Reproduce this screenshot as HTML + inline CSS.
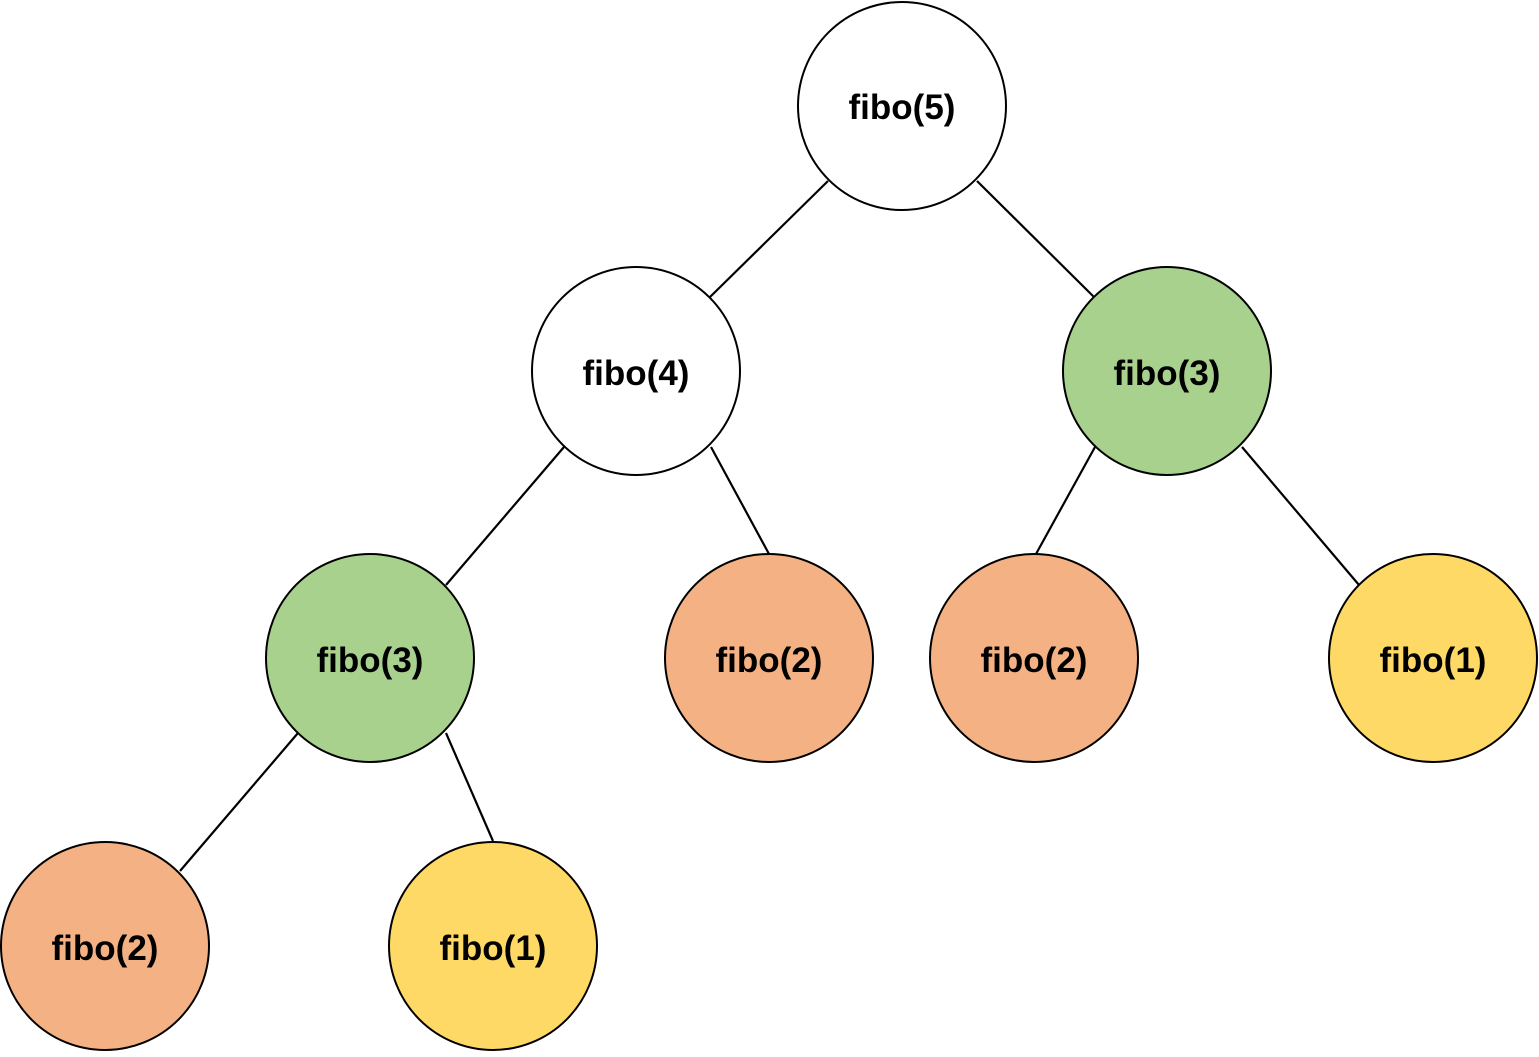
<!DOCTYPE html>
<html><head><style>html,body{margin:0;padding:0;background:#fff}</style></head><body>
<svg width="1539" height="1052" viewBox="0 0 1539 1052" xmlns="http://www.w3.org/2000/svg">
<g stroke="#000" stroke-width="2.2">
<line x1="828" y1="181" x2="710" y2="297"/>
<line x1="977" y1="181" x2="1094" y2="297"/>
<line x1="564" y1="447" x2="446" y2="585"/>
<line x1="711" y1="447" x2="769" y2="554"/>
<line x1="1095" y1="447" x2="1036" y2="554"/>
<line x1="1242" y1="447" x2="1359" y2="585"/>
<line x1="298" y1="733" x2="180" y2="871"/>
<line x1="446" y1="733" x2="493" y2="841"/>
</g>
<g stroke="#000" stroke-width="2">
<circle cx="902" cy="106" r="104" fill="#fff"/>
<circle cx="636" cy="371" r="104" fill="#fff"/>
<circle cx="1167" cy="371" r="104" fill="#a9d18e"/>
<circle cx="370" cy="658" r="104" fill="#a9d18e"/>
<circle cx="769" cy="658" r="104" fill="#f4b183"/>
<circle cx="1034" cy="658" r="104" fill="#f4b183"/>
<circle cx="1433" cy="658" r="104" fill="#ffd966"/>
<circle cx="105" cy="946" r="104" fill="#f4b183"/>
<circle cx="493" cy="946" r="104" fill="#ffd966"/>
</g>
<g font-family="Liberation Sans, sans-serif" font-weight="bold" font-size="35" text-anchor="middle" fill="#000">
<text x="902" y="119">fibo(5)</text>
<text x="636" y="385">fibo(4)</text>
<text x="1167" y="385">fibo(3)</text>
<text x="370" y="672">fibo(3)</text>
<text x="769" y="672">fibo(2)</text>
<text x="1034" y="672">fibo(2)</text>
<text x="1433" y="672">fibo(1)</text>
<text x="105" y="960">fibo(2)</text>
<text x="493" y="960">fibo(1)</text>
</g>
</svg>
</body></html>
